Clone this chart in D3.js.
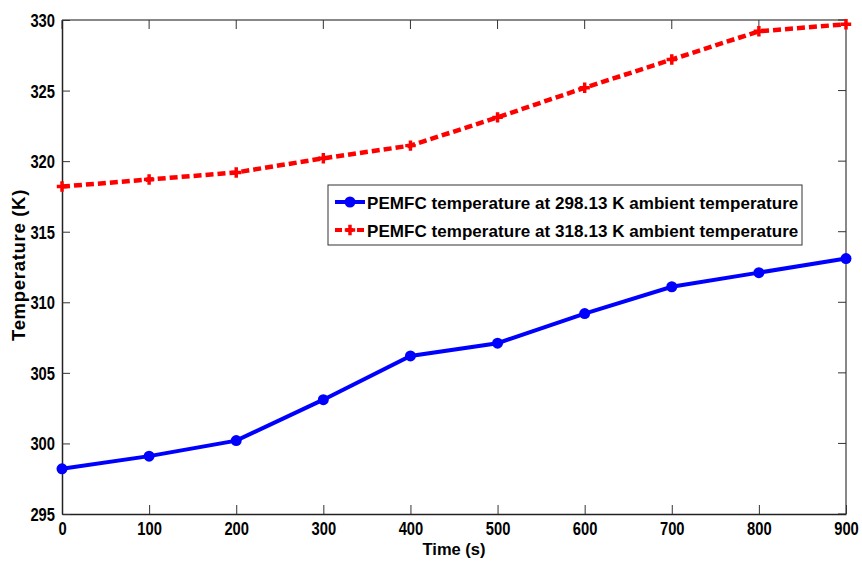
<!DOCTYPE html>
<html>
<head>
<meta charset="utf-8">
<script src="https://cdn.jsdelivr.net/npm/d3@7"></script>
<style>
  body { margin: 0; background: #fff; }
  text { font-family: "Liberation Sans", Arial, sans-serif; font-weight: bold; }
</style>
</head>
<body>
<div id="chart"></div>
<script>
var svgWidth = 862;
var svgHeight = 561;

var margin = { top: 20, right: 16, bottom: 47, left: 62 };
var width = svgWidth - margin.left - margin.right;
var height = svgHeight - margin.top - margin.bottom;

// data
var times = [0, 100, 200, 300, 400, 500, 600, 700, 800, 900];
var temp298 = [298.2, 299.1, 300.2, 303.1, 306.2, 307.1, 309.2, 311.1, 312.1, 313.1];
var temp318 = [318.2, 318.7, 319.2, 320.2, 321.1, 323.1, 325.2, 327.2, 329.2, 329.7];
var xTicks = [0, 100, 200, 300, 400, 500, 600, 700, 800, 900];
var yTicks = [295, 300, 305, 310, 315, 320, 325, 330];
var seriesNames = [
  "PEMFC temperature at 298.13 K ambient temperature",
  "PEMFC temperature at 318.13 K ambient temperature"
];

var svg = d3.select("#chart")
  .append("svg")
  .attr("width", svgWidth)
  .attr("height", svgHeight);

var chartGroup = svg.append("g")
  .attr("transform", `translate(${margin.left}, ${margin.top})`);

var xScale = d3.scaleLinear().domain([0, 900]).range([0, width]);
var yScale = d3.scaleLinear().domain([295, 330]).range([height, 0]);

// top and right spines (gray)
chartGroup.append("line")
  .attr("x1", 0).attr("x2", width).attr("y1", 0).attr("y2", 0)
  .attr("stroke", "#888").attr("stroke-width", 2);
chartGroup.append("line")
  .attr("x1", width).attr("x2", width).attr("y1", 0).attr("y2", height)
  .attr("stroke", "#888").attr("stroke-width", 2);

// mirrored ticks
xTicks.forEach(function(t) {
  chartGroup.append("line")
    .attr("x1", xScale(t)).attr("x2", xScale(t)).attr("y1", 0).attr("y2", 9)
    .attr("stroke", "#333");
});
yTicks.forEach(function(t) {
  chartGroup.append("line")
    .attr("x1", width - 8).attr("x2", width).attr("y1", yScale(t)).attr("y2", yScale(t))
    .attr("stroke", "#333");
});

var bottomAxis = d3.axisBottom(xScale).tickValues(xTicks).tickSizeInner(-9).tickSizeOuter(0).tickPadding(8);
var leftAxis = d3.axisLeft(yScale).tickValues(yTicks).tickSizeInner(-8).tickSizeOuter(0).tickPadding(7);

var xAxisG = chartGroup.append("g")
  .attr("transform", `translate(0, ${height})`)
  .call(bottomAxis);
var yAxisG = chartGroup.append("g").call(leftAxis);

// tick labels are narrow in the original, squeeze them a bit
var squeeze = 0.82;
[xAxisG, yAxisG].forEach(function(g) {
  g.select(".domain").attr("stroke", "#222").attr("stroke-width", 1.5);
  g.selectAll(".tick line").attr("stroke", "#333");
  g.selectAll(".tick text")
    .attr("font-size", 18)
    .attr("fill", "#000")
    .attr("transform", `scale(${squeeze},1)`)
    .style("font-weight", "bold");
});
yAxisG.selectAll(".tick text").attr("dy", "0.36em").attr("x", -7 / squeeze);

var line = d3.line()
  .x(function(d, i) { return xScale(times[i]); })
  .y(function(d) { return yScale(d); });

// blue series
chartGroup.append("path")
  .datum(temp298)
  .attr("d", line)
  .attr("fill", "none")
  .attr("stroke", "#0000ff")
  .attr("stroke-width", 4);
chartGroup.selectAll(".blueDot")
  .data(temp298)
  .enter()
  .append("circle")
  .attr("class", "blueDot")
  .attr("cx", function(d, i) { return xScale(times[i]); })
  .attr("cy", function(d) { return yScale(d); })
  .attr("r", 5.5)
  .attr("fill", "#0000ff");

// red series
chartGroup.append("path")
  .datum(temp318)
  .attr("d", line)
  .attr("fill", "none")
  .attr("stroke", "#ff0000")
  .attr("stroke-width", 4.5)
  .attr("stroke-dasharray", "8,4");
chartGroup.selectAll(".redDot")
  .data(temp318)
  .enter()
  .append("path")
  .attr("class", "redDot")
  .attr("transform", function(d, i) { return `translate(${xScale(times[i])}, ${yScale(d)})`; })
  .attr("d", d3.symbol().type(d3.symbolCross).size(60))
  .attr("fill", "#ff0000");

// legend
var legend = svg.append("g").attr("transform", "translate(328, 185)");
legend.append("rect")
  .attr("width", 474).attr("height", 60)
  .attr("fill", "#fff").attr("stroke", "#333").attr("stroke-width", 1);

var legendColors = ["#0000ff", "#ff0000"];
seriesNames.forEach(function(name, i) {
  var ly = 17 + i * 28;
  var item = legend.append("g").attr("transform", `translate(0, ${ly})`);
  item.append("line")
    .attr("x1", 7).attr("x2", 37).attr("y1", 0).attr("y2", 0)
    .attr("stroke", legendColors[i])
    .attr("stroke-width", 4)
    .attr("stroke-dasharray", i === 1 ? "7,4" : null);
  if (i === 0) {
    item.append("circle").attr("cx", 22).attr("cy", 0).attr("r", 5.5).attr("fill", legendColors[i]);
  } else {
    item.append("path")
      .attr("transform", "translate(22,0)")
      .attr("d", d3.symbol().type(d3.symbolCross).size(60))
      .attr("fill", legendColors[i]);
  }
  item.append("text")
    .attr("x", 39).attr("y", 6.5)
    .attr("font-size", 17)
    .style("letter-spacing", "0.05px")
    .text(name);
});

// axis labels
chartGroup.append("text")
  .attr("transform", `translate(${width / 2}, ${535 - margin.top + 20})`)
  .attr("text-anchor", "middle")
  .attr("font-size", 16.5)
  .text("Time (s)");

chartGroup.append("text")
  .attr("transform", "rotate(-90)")
  .attr("x", -(265 - margin.top))
  .attr("y", -37)
  .attr("text-anchor", "middle")
  .attr("font-size", 18.5)
  .style("letter-spacing", "0.7px")
  .text("Temperature (K)");
</script>
</body>
</html>
